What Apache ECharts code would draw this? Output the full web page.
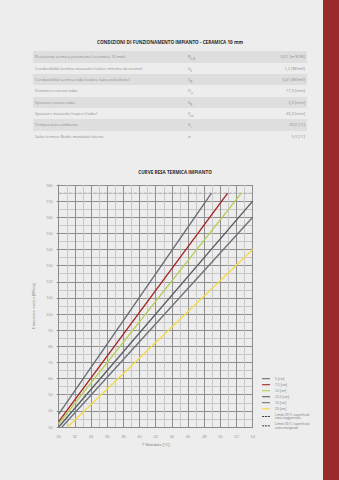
<!DOCTYPE html>
<html>
<head>
<meta charset="utf-8">
<script src="https://cdn.jsdelivr.net/npm/echarts@6/dist/echarts.min.js"></script>
<style>
  html, body { margin: 0; padding: 0; }
  body { width: 339px; height: 480px; background: #ededed; position: relative; overflow: hidden; font-family: "Open Sans", "DejaVu Sans", sans-serif; }
  #bar { position: absolute; left: 323px; top: 0; width: 16px; height: 480px; background: #9a2b2c; }
  #ttl { position: absolute; left: 33px; width: 274px; top: 39px; text-align: center; font-size: 4.6px; font-weight: bold; color: #2a2a2a; }
  .row { position: absolute; left: 33px; width: 274px; height: 11.35px; line-height: 11.35px; font-size: 4px; color: #8c8c8c; }
  .row.sh { background: #dedede; }
  .row .l { position: absolute; left: 2px; }
  .row .s { position: absolute; left: 155px; }
  .row .v { position: absolute; right: 2px; }
  #a { position: absolute; left: 0; top: 155px; width: 322px; height: 325px; }
</style>
</head>
<body>
<div id="bar"></div>
<div id="ttl">CONDIZIONI DI FUNZIONAMENTO IMPIANTO - CERAMICA 10 mm</div>
<div id="tab"></div>
<div id="a"></div>
<script>
// tabella condizioni
var voci = ['Resistenza termica pavimento (ceramica 10 mm)', 'Conducibilità termica massetto (valore minimo da norma)',
  'Conducibilità termica tubo (valore tubo polietilene)', 'Diametro esterno tubo', 'Spessore parete tubo',
  'Spessore massetto (sopra il tubo)', 'Temperatura ambiente', 'Salto termico fluido mandata/ritorno'];
var simboli = ['R<sub>λ,B</sub>', 'λ<sub>E</sub>', 'λ<sub>R</sub>', 'D<sub>a</sub>', 'S<sub>R</sub>', 'S<sub>ut</sub>', 'θ<sub>i</sub>', 'σ'];
var valori = ['0,01 [m²K/W]', '1,2 [W/mK]', '0,41 [W/mK]', '17,0 [mm]', '2,0 [mm]', '45,0 [mm]', '20,0 [°C]', '5,0 [°C]'];

var tab = document.getElementById('tab');
for (var i = 0; i < voci.length; i++) {
  var r = document.createElement('div');
  r.className = 'row' + (i % 2 == 0 ? ' sh' : '');
  r.style.top = (51.3 + i * 11.35) + 'px';
  r.innerHTML = '<span class="l">' + voci[i] + '</span><span class="s">' + simboli[i] + '</span><span class="v">' + valori[i] + '</span>';
  tab.appendChild(r);
}

// curve resa termica: [T mandata, emissione]
var nomi = ['5 [cm]', '7,5 [cm]', '10 [cm]', '12,5 [cm]', '15 [cm]', '20 [cm]'];
var colori = ['#6a6e75', '#a3282a', '#b9cd5c', '#575c65', '#6e737b', '#f3d94c'];
var curve = [
  [[30, 38], [48.9, 175]],
  [[30, 33.3], [50.9, 175]],
  [[30, 32], [52.6, 175]],
  [[30, 30], [54, 170]],
  [[30.4, 30], [54, 160]],
  [[31.1, 30], [54, 140]]
];
var limiti = ['Limite 29°C superficiali\nzona soggiornale', 'Limite 35°C superficiali\nzona marginale'];
var limite29 = [[30, 175], [54, 175]];

var myechart = echarts.init(document.getElementById('a'), null, { renderer: 'svg' });

var series = [];
for (var k = 0; k < curve.length; k++) {
  series.push({
    name: nomi[k], type: 'line', data: curve[k], symbol: 'none', silent: true,
    lineStyle: { color: colori[k], width: 1.4 }, itemStyle: { color: colori[k] }, z: 3
  });
}
series.push({
  name: limiti[0], type: 'line', data: limite29, symbol: 'none', silent: true,
  lineStyle: { color: '#a8a8a8', width: 0.8, type: [3, 2] }, itemStyle: { color: '#111' }, z: 2
});
series.push({
  name: limiti[1], type: 'line', data: [], symbol: 'none',
  lineStyle: { color: '#111', width: 1, type: [3, 2] }, itemStyle: { color: '#111' }
});

var tratteggio = 'path://M0,0h3v1h-3zM4,0h3v1h-3zM8,0h3v1h-3z';
var legendData = nomi.map(function (n) { return { name: n, icon: 'rect' }; });
legendData.push({ name: limiti[0], icon: tratteggio, itemStyle: { color: '#111' } });
legendData.push({ name: limiti[1], icon: tratteggio, itemStyle: { color: '#111' } });

option = {
  animation: false,
  title: {
    text: 'CURVE RESA TERMICA IMPIANTO', left: 170, textAlign: 'center', top: 9,
    textStyle: { fontSize: 4.6, fontWeight: 'bold', color: '#2a2a2a', fontFamily: 'Open Sans' }
  },
  legend: {
    orient: 'vertical', left: 262, top: 222, itemWidth: 8, itemHeight: 1.1, itemGap: 2.6,
    padding: 0, data: legendData,
    textStyle: { fontSize: 3.4, color: '#888', lineHeight: 3.4 }
  },
  grid: { left: 58.7, right: 69.3, top: 30, bottom: 53 },
  xAxis: {
    type: 'value', min: 30, max: 54, interval: 2,
    name: 'T Mandata [°C]', nameLocation: 'middle', nameGap: 15,
    nameTextStyle: { fontSize: 4.2, color: '#888' },
    axisLine: { show: true, lineStyle: { color: '#8a8a8a', width: 1 } },
    axisTick: { show: false },
    axisLabel: { fontSize: 4, color: '#999', margin: 7 },
    splitLine: { show: true, lineStyle: { color: '#8f8f8f', width: 1 } },
    minorTick: { show: false, splitNumber: 2 },
    minorSplitLine: { show: true, lineStyle: { color: '#c9c9c9', width: 1 } }
  },
  yAxis: {
    type: 'value', min: 30, max: 180, interval: 10,
    name: 'Emissione areica [W/mq]', nameLocation: 'middle', nameGap: 22,
    nameTextStyle: { fontSize: 4.2, color: '#999' },
    axisLine: { show: true, lineStyle: { color: '#8a8a8a', width: 1 } },
    axisTick: { show: true, length: 2, lineStyle: { color: '#8a8a8a' } },
    axisLabel: { fontSize: 4, color: '#999', margin: 6 },
    splitLine: { show: true, lineStyle: { color: '#8f8f8f', width: 1 } },
    minorTick: { show: false, splitNumber: 2 },
    minorSplitLine: { show: true, lineStyle: { color: '#c9c9c9', width: 1 } }
  },
  series: series
};
myechart.setOption(option);
</script>
</body>
</html>
